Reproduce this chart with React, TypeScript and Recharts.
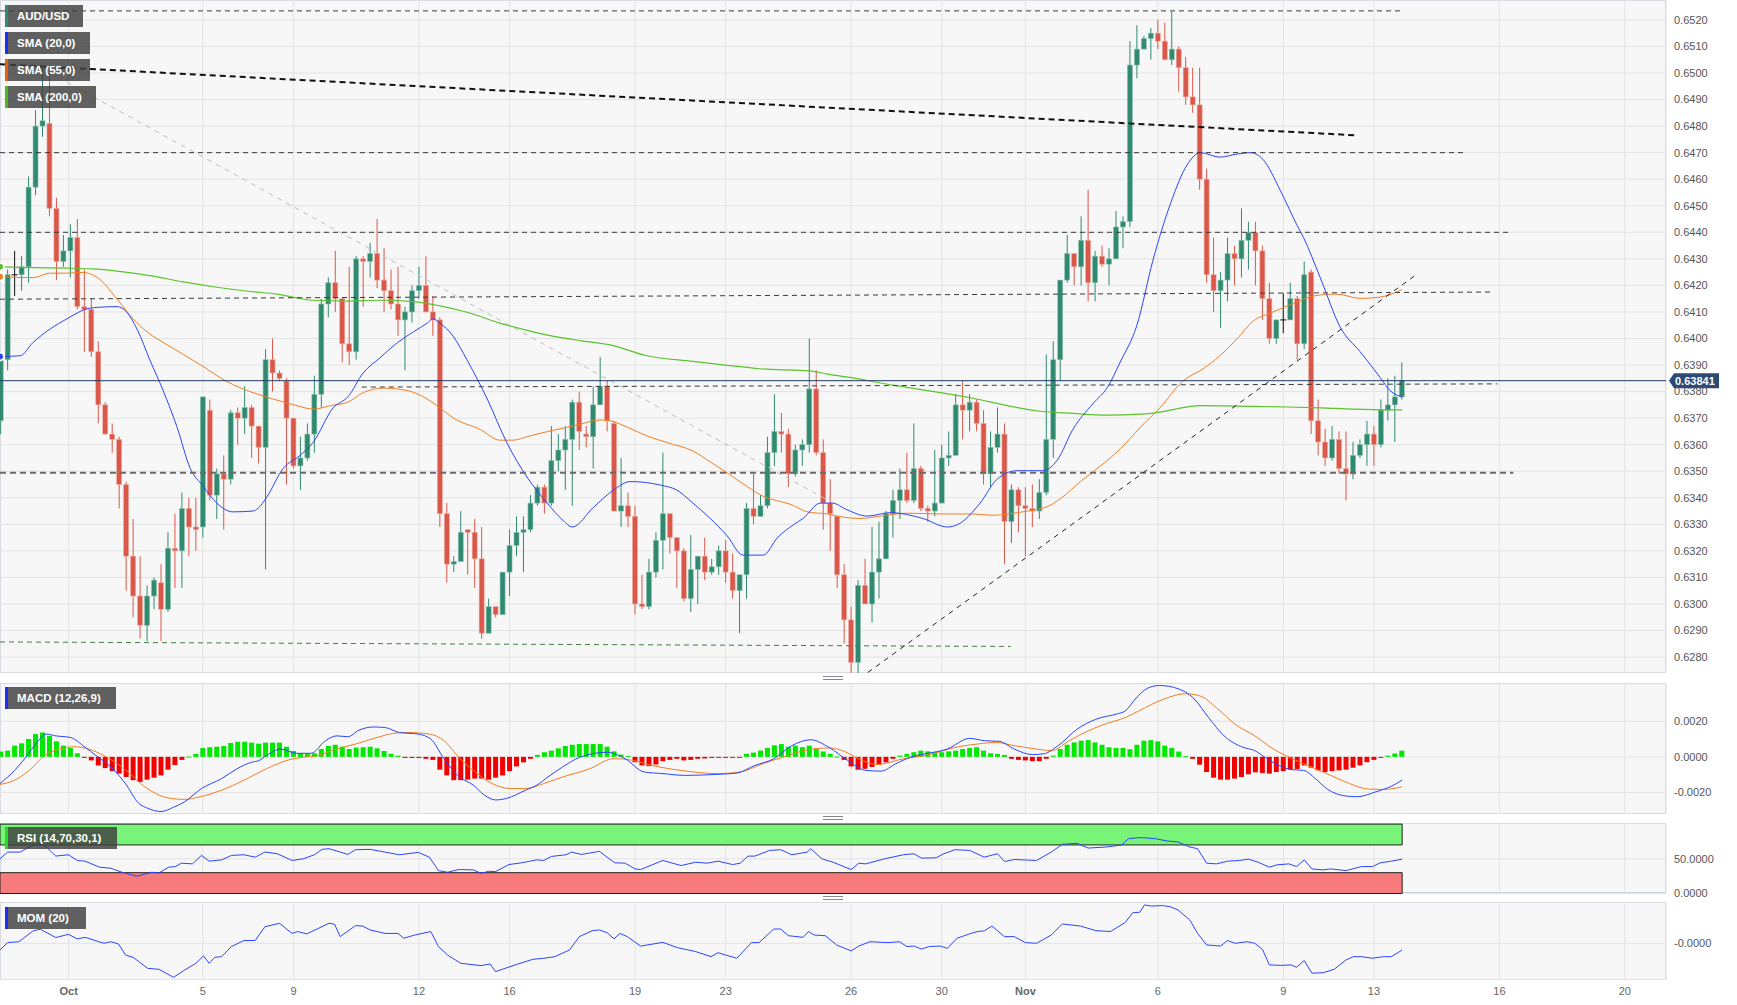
import React from "react";
import {
  ComposedChart,
  Bar,
  Line,
  XAxis,
  YAxis,
  ReferenceLine,
  ReferenceArea,
  CartesianGrid,
} from "recharts";

const FONT = "'Liberation Sans', Arial, sans-serif";
const CHART_W = 1737;
const AXIS_W = 71;
const X_DOMAIN: [number, number] = [-0.1, 238.9];

const UP = "#2f8a70";
const DOWN = "#d9584a";
const BLUE = "#2a45ff";
const ORANGE = "#f57d22";
const SMA_GREEN = "#5cc22e";

// candle index where each date label sits
const dateTicks = [9.75, 29, 42, 60, 73, 91, 104, 122, 135, 147, 166, 184, 197, 215, 233];
const dateLabels = ["Oct", "5", "9", "12", "16", "19", "23", "26", "30", "Nov", "6", "9", "13", "16", "20"];

const priceTicks = [
  0.628, 0.629, 0.63, 0.631, 0.632, 0.633, 0.634, 0.635, 0.636, 0.637, 0.638, 0.639, 0.64,
  0.641, 0.642, 0.643, 0.644, 0.645, 0.646, 0.647, 0.648, 0.649, 0.65, 0.651, 0.652,
];
const lastPrice = 0.63841;

// AUD/USD 4h candles: [open, high, low, close]
const candles = [
  [0.6369, 0.6395, 0.6364, 0.6392], [0.6392, 0.6426, 0.6388, 0.6424], [0.6424, 0.6433, 0.6416, 0.6424],
  [0.6424, 0.6431, 0.6418, 0.6427], [0.6427, 0.6461, 0.6421, 0.6457], [0.6457, 0.6486, 0.6454, 0.648],
  [0.648, 0.6502, 0.6476, 0.6482], [0.6481, 0.65, 0.6446, 0.6449], [0.6449, 0.6453, 0.6422, 0.6429],
  [0.6429, 0.6439, 0.6427, 0.6433], [0.6433, 0.6443, 0.6423, 0.6438], [0.6438, 0.6445, 0.6411, 0.6412],
  [0.6412, 0.6426, 0.6395, 0.6411], [0.6411, 0.6415, 0.6393, 0.6395], [0.6395, 0.6399, 0.6368, 0.6375],
  [0.6375, 0.6376, 0.6364, 0.6364], [0.6364, 0.6368, 0.6357, 0.6362], [0.6362, 0.6363, 0.6336, 0.6345],
  [0.6345, 0.6346, 0.6305, 0.6318], [0.6318, 0.6332, 0.6295, 0.6303], [0.6303, 0.6318, 0.6287, 0.6292],
  [0.6292, 0.6307, 0.6286, 0.6303], [0.6303, 0.631, 0.6298, 0.6309], [0.6308, 0.6315, 0.6286, 0.6298],
  [0.6298, 0.6327, 0.6297, 0.6321], [0.6321, 0.6334, 0.6306, 0.632], [0.632, 0.6342, 0.6306, 0.6336],
  [0.6336, 0.634, 0.6318, 0.6329], [0.6329, 0.634, 0.632, 0.6328], [0.6329, 0.6378, 0.6325, 0.6378],
  [0.6373, 0.6377, 0.6339, 0.6341], [0.6341, 0.6351, 0.6332, 0.6349], [0.6349, 0.6356, 0.6328, 0.6347],
  [0.6347, 0.6373, 0.6345, 0.6372], [0.6372, 0.6374, 0.636, 0.637], [0.637, 0.6382, 0.6364, 0.6374],
  [0.6374, 0.6375, 0.6355, 0.6367], [0.6367, 0.6367, 0.6353, 0.6359], [0.6359, 0.6396, 0.6313, 0.6392],
  [0.6392, 0.64, 0.638, 0.6387], [0.6387, 0.6388, 0.6384, 0.6385], [0.6384, 0.6385, 0.6345, 0.637],
  [0.637, 0.637, 0.6351, 0.6352], [0.6352, 0.6363, 0.6343, 0.6355], [0.6355, 0.6368, 0.6354, 0.6364],
  [0.6364, 0.6386, 0.6357, 0.6379], [0.6379, 0.6415, 0.6374, 0.6413], [0.6413, 0.6423, 0.6408, 0.6421],
  [0.6421, 0.6433, 0.641, 0.6415], [0.6415, 0.6415, 0.6391, 0.6398], [0.6398, 0.6427, 0.639, 0.6395],
  [0.6395, 0.6431, 0.6392, 0.643], [0.643, 0.6431, 0.6412, 0.6429], [0.6429, 0.6436, 0.6423, 0.6432],
  [0.6432, 0.6445, 0.6419, 0.6422], [0.6422, 0.6434, 0.641, 0.6418], [0.6418, 0.6426, 0.6411, 0.6413],
  [0.6413, 0.6427, 0.6401, 0.6407], [0.6407, 0.6412, 0.6388, 0.641], [0.641, 0.642, 0.6406, 0.6418],
  [0.6418, 0.6427, 0.6415, 0.642], [0.642, 0.6431, 0.641, 0.641], [0.641, 0.6416, 0.6401, 0.6407],
  [0.6407, 0.6408, 0.6329, 0.6334], [0.6334, 0.6338, 0.6308, 0.6315], [0.6315, 0.6318, 0.6312, 0.6316],
  [0.6316, 0.6335, 0.6316, 0.6327], [0.6328, 0.6328, 0.6311, 0.6327], [0.6327, 0.6332, 0.6306, 0.6317],
  [0.6317, 0.6329, 0.6287, 0.6289], [0.6289, 0.6302, 0.6289, 0.6299], [0.6299, 0.6299, 0.6295, 0.6296],
  [0.6296, 0.6312, 0.6296, 0.6312], [0.6312, 0.6328, 0.6303, 0.6322], [0.6322, 0.6333, 0.6318, 0.6327],
  [0.6327, 0.6333, 0.6312, 0.6328], [0.6328, 0.6341, 0.6327, 0.6338], [0.6338, 0.6345, 0.6337, 0.6344],
  [0.6344, 0.6345, 0.6334, 0.6338], [0.6338, 0.6367, 0.6337, 0.6354], [0.6354, 0.6364, 0.635, 0.6358],
  [0.6358, 0.6367, 0.6343, 0.6362], [0.6362, 0.6377, 0.6337, 0.6376], [0.6376, 0.638, 0.6358, 0.6365],
  [0.6364, 0.6367, 0.6359, 0.6363], [0.6363, 0.6382, 0.6351, 0.6375], [0.6375, 0.6393, 0.6375, 0.6382],
  [0.6382, 0.6384, 0.6365, 0.6369], [0.6368, 0.6369, 0.6335, 0.6335], [0.6335, 0.6355, 0.6329, 0.6337],
  [0.6337, 0.6342, 0.6329, 0.6333], [0.6333, 0.6337, 0.6296, 0.63], [0.63, 0.6311, 0.6298, 0.6299],
  [0.6299, 0.6317, 0.6298, 0.6312], [0.6312, 0.6327, 0.631, 0.6324], [0.6324, 0.6357, 0.6313, 0.6334],
  [0.6334, 0.6334, 0.6319, 0.6325], [0.6325, 0.6325, 0.6306, 0.632], [0.632, 0.6321, 0.6301, 0.6302],
  [0.6302, 0.6326, 0.6297, 0.6313], [0.6313, 0.6318, 0.63, 0.6318], [0.6318, 0.6325, 0.6309, 0.6312],
  [0.6312, 0.6317, 0.6311, 0.6314], [0.6314, 0.6322, 0.6311, 0.632], [0.632, 0.6324, 0.6308, 0.6312],
  [0.6312, 0.6319, 0.6302, 0.6305], [0.6305, 0.6311, 0.6289, 0.6311], [0.6311, 0.6338, 0.6302, 0.6336],
  [0.6336, 0.6349, 0.633, 0.6333], [0.6333, 0.6341, 0.6333, 0.6337], [0.6337, 0.6363, 0.6336, 0.6357],
  [0.6357, 0.6379, 0.6352, 0.6365], [0.6365, 0.6372, 0.6357, 0.6364], [0.6364, 0.6366, 0.6344, 0.6349],
  [0.6349, 0.636, 0.6348, 0.6358], [0.6358, 0.6362, 0.6352, 0.636], [0.636, 0.64, 0.6357, 0.6381],
  [0.6381, 0.6388, 0.6356, 0.6357], [0.6357, 0.6362, 0.6328, 0.6338], [0.6338, 0.6347, 0.632, 0.6334],
  [0.6333, 0.6333, 0.6306, 0.6311], [0.6311, 0.6315, 0.6285, 0.6294], [0.6294, 0.6299, 0.6274, 0.6278],
  [0.6278, 0.6309, 0.6274, 0.6307], [0.6307, 0.6317, 0.63, 0.63], [0.63, 0.6329, 0.6293, 0.6312],
  [0.6312, 0.6331, 0.6302, 0.6317], [0.6317, 0.6335, 0.6317, 0.6334], [0.6334, 0.6343, 0.6325, 0.6339],
  [0.6339, 0.6351, 0.6332, 0.6343], [0.6343, 0.6357, 0.6338, 0.6339], [0.6339, 0.6368, 0.6338, 0.6351],
  [0.6351, 0.6352, 0.6335, 0.6336], [0.6336, 0.6337, 0.6331, 0.6335], [0.6335, 0.6358, 0.6333, 0.6338],
  [0.6338, 0.636, 0.6338, 0.6355], [0.6355, 0.6365, 0.6352, 0.6356], [0.6356, 0.6379, 0.6356, 0.6375],
  [0.6375, 0.6384, 0.6362, 0.6373], [0.6373, 0.6379, 0.6365, 0.6376], [0.6376, 0.6377, 0.6365, 0.6368],
  [0.6368, 0.6373, 0.6345, 0.6349], [0.6349, 0.6365, 0.6344, 0.6359], [0.6359, 0.6374, 0.6357, 0.6364],
  [0.6364, 0.6368, 0.6315, 0.6331], [0.6331, 0.6345, 0.6323, 0.6343], [0.6343, 0.6344, 0.6327, 0.6337],
  [0.6337, 0.6344, 0.6318, 0.6336], [0.6336, 0.6345, 0.6329, 0.6335], [0.6335, 0.6347, 0.6332, 0.6342],
  [0.6342, 0.6394, 0.6341, 0.6362], [0.6362, 0.6399, 0.6355, 0.6392], [0.6392, 0.6422, 0.6384, 0.6422],
  [0.6422, 0.6439, 0.6421, 0.6432], [0.6432, 0.6432, 0.642, 0.6427], [0.6427, 0.6446, 0.642, 0.6437],
  [0.6437, 0.6456, 0.6414, 0.6421], [0.6421, 0.6433, 0.6414, 0.6431], [0.6431, 0.6435, 0.6427, 0.6428],
  [0.6428, 0.6434, 0.642, 0.643], [0.643, 0.6448, 0.643, 0.6442], [0.6442, 0.6446, 0.6434, 0.6444],
  [0.6444, 0.6512, 0.6442, 0.6503], [0.6503, 0.6518, 0.6498, 0.6509], [0.6509, 0.6514, 0.6509, 0.6513],
  [0.6513, 0.6517, 0.6505, 0.6515], [0.6515, 0.652, 0.6509, 0.6512], [0.6512, 0.6519, 0.6505, 0.6505],
  [0.6505, 0.6523, 0.6503, 0.6509], [0.6509, 0.651, 0.6493, 0.6502], [0.6502, 0.6506, 0.6488, 0.6491],
  [0.6491, 0.6502, 0.6485, 0.6488], [0.6488, 0.6502, 0.6456, 0.646], [0.646, 0.6464, 0.6421, 0.6424],
  [0.6424, 0.6438, 0.641, 0.6418], [0.6418, 0.6425, 0.6404, 0.6422], [0.6422, 0.6438, 0.6414, 0.6432],
  [0.6432, 0.6435, 0.642, 0.643], [0.643, 0.6449, 0.6423, 0.6437], [0.6437, 0.6444, 0.6426, 0.644],
  [0.644, 0.6444, 0.642, 0.6433], [0.6433, 0.6435, 0.6407, 0.6415], [0.6415, 0.6421, 0.6398, 0.64],
  [0.64, 0.6407, 0.6398, 0.6407], [0.6407, 0.6417, 0.6402, 0.6407], [0.6407, 0.6421, 0.6407, 0.6415],
  [0.6415, 0.6416, 0.6392, 0.6398], [0.6398, 0.6429, 0.6396, 0.6424], [0.6425, 0.6426, 0.6364, 0.6369],
  [0.6369, 0.6377, 0.6356, 0.6361], [0.6361, 0.6366, 0.6352, 0.6355], [0.6355, 0.6367, 0.6354, 0.6362],
  [0.6362, 0.6365, 0.6349, 0.6351], [0.6351, 0.6365, 0.6339, 0.6349], [0.6349, 0.6361, 0.6347, 0.6356],
  [0.6356, 0.6362, 0.6355, 0.636], [0.636, 0.6369, 0.6352, 0.6364], [0.6364, 0.6367, 0.6352, 0.636],
  [0.636, 0.6377, 0.6359, 0.6373], [0.6373, 0.6385, 0.6369, 0.6375], [0.6375, 0.6386, 0.6361, 0.6378],
  [0.6378, 0.6391, 0.6377, 0.63841],
];

// moving averages: [candle index, value]
const sma20 = [
  [-0.1, 0.63932], [2.8, 0.63935], [4.6, 0.63984], [7.1, 0.64036], [9.5, 0.64074], [12.4, 0.64112],
  [14.3, 0.64118], [16.7, 0.6412], [18.1, 0.64099], [19.6, 0.64033], [21.4, 0.63919], [23.3, 0.63804],
  [25.3, 0.63666], [27.2, 0.6351], [29.0, 0.63445], [31.0, 0.6338], [33.3, 0.63347], [36.2, 0.6335],
  [36.9, 0.6336], [38.2, 0.63404], [40.5, 0.6351], [42.9, 0.63559], [44.8, 0.63608], [47.7, 0.63739],
  [49.8, 0.6378], [52.0, 0.6387], [54.4, 0.63927], [56.9, 0.63984], [59.2, 0.64025], [61.2, 0.64058],
  [62.0, 0.64074], [63.0, 0.64058], [64.9, 0.64009], [66.9, 0.63919], [69.8, 0.63772], [72.6, 0.63608],
  [75.5, 0.63478], [78.4, 0.6338], [80.7, 0.63314], [82.0, 0.6329], [85.0, 0.63363], [87.9, 0.63429],
  [90.3, 0.63461], [94.6, 0.63448], [97.0, 0.63429], [99.3, 0.6338], [101.8, 0.63322], [104.2, 0.63257],
  [106.5, 0.63184], [109.4, 0.63184], [111.4, 0.63249], [113.7, 0.63298], [115.1, 0.63322], [117.6, 0.6338],
  [119.3, 0.6338], [121.4, 0.63355], [124.3, 0.63331], [127.6, 0.63344], [132.3, 0.63322], [135.8, 0.6329],
  [137.2, 0.63298], [140.5, 0.6338], [142.9, 0.63469], [145.8, 0.63502], [149.5, 0.63502], [151.6, 0.63543],
  [153.8, 0.63657], [156.7, 0.63755], [158.7, 0.63813], [160.6, 0.63911], [163.0, 0.6405], [165.3, 0.64295],
  [167.8, 0.64507], [170.2, 0.64654], [172.1, 0.647], [174.9, 0.64683], [177.4, 0.64695], [179.3, 0.647],
  [181.1, 0.64674], [183.6, 0.64556], [186.0, 0.64425], [186.9, 0.6438], [189.3, 0.64229], [192.2, 0.64041],
  [195.0, 0.63951], [197.9, 0.63853], [199.3, 0.63804], [201.05, 0.6378],
];
const sma55 = [
  [-0.1, 0.64233], [4.6, 0.64229], [7.1, 0.64246], [9.5, 0.64246], [11.8, 0.64249], [14.3, 0.64221],
  [16.7, 0.64148], [19.0, 0.64074], [21.0, 0.64025], [23.9, 0.63976], [28.6, 0.63902], [32.5, 0.63837],
  [36.2, 0.63796], [39.6, 0.63768], [42.5, 0.63747], [44.8, 0.63734], [47.3, 0.63747], [49.7, 0.63759],
  [52.0, 0.63796], [54.9, 0.63813], [58.3, 0.63804], [61.2, 0.63772], [63.0, 0.63739], [64.9, 0.63701],
  [68.8, 0.63657], [71.6, 0.63617], [73.5, 0.63617], [75.9, 0.63633], [78.4, 0.63649], [81.3, 0.63666],
  [83.1, 0.63677], [86.0, 0.63693], [87.4, 0.6369], [89.9, 0.63666], [92.7, 0.63633], [95.6, 0.63608],
  [99.3, 0.63576], [101.8, 0.63535], [104.2, 0.63494], [106.5, 0.63453], [108.9, 0.63412], [113.7, 0.63371],
  [115.7, 0.63347], [118.6, 0.63339], [120.9, 0.63327], [123.3, 0.63322], [126.2, 0.63331], [130.0, 0.63342],
  [134.8, 0.63339], [139.5, 0.63339], [142.4, 0.63334], [144.4, 0.63339], [147.3, 0.6335], [150.1, 0.63366],
  [152.0, 0.63396], [154.9, 0.63461], [157.7, 0.63518], [160.6, 0.63584], [163.5, 0.63666], [166.3, 0.63739],
  [169.6, 0.6384], [172.5, 0.63886], [174.9, 0.63935], [177.4, 0.64], [179.7, 0.64066], [182.1, 0.64095],
  [184.6, 0.64123], [186.9, 0.64148], [189.3, 0.64164], [191.7, 0.64167], [195.0, 0.64151], [197.9, 0.64156],
  [201.05, 0.64184],
];
const sma200 = [
  [-0.1, 0.6427], [4.6, 0.64267], [9.5, 0.64265], [13.2, 0.64262], [16.7, 0.64254], [21.4, 0.64237],
  [26.2, 0.64213], [31.0, 0.64193], [35.8, 0.64177], [39.6, 0.64167], [42.9, 0.64151], [44.8, 0.64144],
  [49.7, 0.64141], [54.4, 0.64144], [59.2, 0.64139], [63.0, 0.64123], [66.9, 0.64099], [71.6, 0.64058],
  [76.4, 0.64025], [80.2, 0.64004], [83.1, 0.63992], [87.4, 0.63976], [92.7, 0.63935], [99.3, 0.63914],
  [104.2, 0.63899], [108.9, 0.63886], [116.1, 0.63878], [118.6, 0.63866], [123.3, 0.63847], [125.2, 0.63837],
  [130.0, 0.63816], [134.8, 0.63796], [139.5, 0.63775], [144.4, 0.63747], [149.1, 0.63726], [153.8, 0.63718],
  [158.7, 0.63711], [163.5, 0.63715], [165.3, 0.63719], [172.1, 0.63747], [179.7, 0.63744], [184.6, 0.63742],
  [189.3, 0.63739], [194.0, 0.63734], [201.05, 0.63731],
];

// drawn levels: [x1, y1, x2, y2]
const dashedLevels = [
  [-0.1, 0.65234, 200.8, 0.65234],
  [-0.1, 0.647, 209.8, 0.647],
  [-0.1, 0.644, 216.4, 0.644],
  [-0.1, 0.64148, 214.0, 0.64175],
  [51.8, 0.63817, 214.7, 0.63829],
];
const supportLevel = [-0.1, 0.63494, 217.0, 0.63494];
const lowLevel = [-0.1, 0.62857, 144.9, 0.6284];
const downTrend = [-0.1, 0.65033, 194.7, 0.64765];
const fadedTrend = [9.5, 0.64965, 118.3, 0.63396];
const upTrend = [124.4, 0.62742, 202.9, 0.64237];

// MACD (12,26,9)
const macdHist = [
  0.0003, 0.00035, 0.00063, 0.00076, 0.001, 0.00128, 0.00137, 0.00118, 0.00087, 0.00063,
  0.0005, 0.0002, -0.00003, -0.0002, -0.00048, -0.00063, -0.0008, -0.00094, -0.00113, -0.00131,
  -0.00141, -0.00128, -0.00117, -0.00104, -0.00072, -0.00046, -0.00017, 0.00002, 0.00017, 0.0005,
  0.00054, 0.00057, 0.00061, 0.00078, 0.00085, 0.00085, 0.0008, 0.00074, 0.0008, 0.0008,
  0.0008, 0.00057, 0.00033, 0.0002, 0.00017, 0.0002, 0.00044, 0.00061, 0.00068, 0.00057,
  0.00044, 0.00052, 0.00054, 0.00057, 0.00048, 0.00033, 0.00017, 0.00007, -0.00006, -0.00006,
  -0.00006, -0.00011, -0.00017, -0.00072, -0.00104, -0.00131, -0.00131, -0.00128, -0.00122, -0.00122,
  -0.00128, -0.00117, -0.00104, -0.0008, -0.00054, -0.00031, -0.00011, 0.00011, 0.00026, 0.00035,
  0.00048, 0.00061, 0.00068, 0.00072, 0.00072, 0.00072, 0.00072, 0.00057, 0.00031, 0.00013,
  0.00004, -0.0003, -0.00048, -0.00052, -0.00043, -0.00024, -0.00017, -0.00011, -0.0002, -0.00017,
  -0.00011, -0.00009, -0.00006, -0.00002, -0.00002, -0.00002, -0.00002, 0.00017, 0.00024, 0.00035,
  0.0005, 0.00065, 0.00072, 0.00057, 0.00063, 0.00054, 0.00063, 0.00044, 0.0003, 0.00017,
  0.00002, -0.00017, -0.00054, -0.00072, -0.00067, -0.00057, -0.00044, -0.00031, -0.00011, 0.00007,
  0.00017, 0.00026, 0.00035, 0.00031, 0.00026, 0.00026, 0.00031, 0.00035, 0.00044, 0.0005,
  0.00054, 0.00035, 0.0002, 0.00017, 0.00011, -0.00011, -0.00017, -0.0002, -0.00024, -0.00024,
  -0.00011, 0.00007, 0.00044, 0.00068, 0.00081, 0.00091, 0.00094, 0.00081, 0.00068, 0.00054,
  0.0005, 0.0005, 0.00043, 0.00068, 0.00091, 0.00094, 0.00087, 0.00063, 0.0005, 0.0003,
  0.00004, -0.00011, -0.00044, -0.00085, -0.00117, -0.00128, -0.00128, -0.00122, -0.00113, -0.00098,
  -0.00087, -0.00091, -0.00094, -0.00085, -0.0008, -0.00072, -0.00068, -0.00048, -0.00061, -0.00076,
  -0.00085, -0.0008, -0.00076, -0.00072, -0.00061, -0.00048, -0.0003, -0.00017, -0.00002, 0.00007,
  0.00019, 0.00035,
];
const macdLine = [
  [-0.1, -0.0015], [2.0, -0.00076], [3.6, -0.00002], [5.2, 0.00081], [6.5, 0.00128], [7.9, 0.00118],
  [10.0, 0.00109], [12.1, 0.00054], [13.7, 0.00007], [15.8, -0.00057], [17.9, -0.0015], [19.8, -0.00261],
  [21.1, -0.00289], [23.0, -0.00307], [24.8, -0.00283], [26.4, -0.00252], [28.8, -0.00178], [31.7, -0.00122],
  [33.9, -0.00067], [36.0, -0.0003], [37.1, -0.0002], [38.1, 0.00007], [40.2, 0.00044], [42.4, 0.0002],
  [44.5, 0.0002], [46.6, 0.00091], [48.2, 0.00118], [49.8, 0.00113], [51.4, 0.0015], [53.5, 0.00168],
  [55.1, 0.00165], [57.2, 0.00137], [59.9, 0.00128], [61.7, 0.001], [63.6, -0.00011], [65.7, -0.00109],
  [67.8, -0.00159], [69.4, -0.00215], [71.0, -0.00242], [72.6, -0.00233], [75.3, -0.00187], [76.9, -0.00159],
  [78.5, -0.00113], [80.6, -0.00057], [83.1, -0.00002], [87.0, 0.00026], [89.6, -0.00011], [92.3, -0.00085],
  [95.0, -0.00094], [98.1, -0.00104], [102.9, -0.00098], [105.6, -0.00091], [108.2, -0.00048], [110.9, -0.00011],
  [113.5, 0.00063], [116.2, 0.00096], [118.8, 0.00054], [121.5, -0.0002], [124.1, -0.00076], [126.3, -0.0008],
  [128.4, -0.00039], [130.5, -0.00002], [132.6, 0.00017], [135.8, 0.00044], [139.0, 0.00104], [141.1, 0.00091],
  [143.3, 0.00087], [145.4, 0.00044], [148.0, 0.00013], [149.6, 0.00017], [151.7, 0.00063], [154.4, 0.00155],
  [157.1, 0.00211], [160.2, 0.00242], [161.3, 0.00257], [162.9, 0.00331], [164.5, 0.00385], [166.2, 0.00401],
  [168.9, 0.00383], [171.1, 0.00331], [173.3, 0.0022], [175.5, 0.00118], [178.2, 0.00054], [179.9, 0.00035],
  [181.5, -0.00006], [183.1, -0.00044], [185.3, -0.00072], [186.9, -0.00076], [188.6, -0.00122], [190.2, -0.00178],
  [193.0, -0.0022], [194.6, -0.00224], [197.3, -0.00196], [199.5, -0.00165], [201.05, -0.00131],
];
const macdSignal = [
  [-0.1, -0.00155], [2.0, -0.00131], [4.1, -0.00076], [6.3, 0.00007], [8.4, 0.00044], [10.5, 0.00057],
  [12.6, 0.00044], [14.8, 0.00007], [16.4, -0.0003], [18.5, -0.00094], [20.1, -0.0015], [22.2, -0.00205],
  [24.3, -0.00233], [26.4, -0.00239], [28.6, -0.00224], [31.7, -0.00187], [34.9, -0.00131], [38.1, -0.00067],
  [41.3, -0.00017], [43.4, -0.00002], [45.5, 0.00007], [47.7, 0.00039], [50.9, 0.00072], [54.0, 0.00109],
  [56.2, 0.00131], [58.3, 0.00137], [61.5, 0.00128], [63.6, 0.00091], [65.7, -0.00002], [67.8, -0.00076],
  [70.5, -0.0015], [73.1, -0.00178], [75.3, -0.00178], [77.9, -0.0015], [80.6, -0.00113], [84.3, -0.0007],
  [88.0, -0.0001], [90.7, -0.0002], [93.4, -0.00048], [97.6, -0.00076], [102.9, -0.00094], [106.1, -0.00085],
  [109.3, -0.00039], [112.5, 0.00002], [115.7, 0.00039], [118.8, 0.0005], [121.0, 0.00031], [123.1, -0.00011],
  [125.7, -0.00043], [129.5, -0.00011], [132.6, 0.00007], [137.4, 0.00057], [140.1, 0.00072], [142.7, 0.00081],
  [145.4, 0.00063], [148.6, 0.00044], [150.7, 0.00035], [153.3, 0.00091], [156.0, 0.00146], [158.6, 0.00187],
  [161.3, 0.0022], [163.4, 0.00261], [166.7, 0.00322], [170.0, 0.00355], [172.2, 0.0034], [174.4, 0.00276],
  [177.1, 0.00183], [179.9, 0.00118], [182.6, 0.00044], [185.3, -0.00011], [188.0, -0.00057], [190.8, -0.00104],
  [193.5, -0.0015], [196.2, -0.00181], [198.4, -0.00183], [201.05, -0.00168],
];

// RSI (14,70,30,1)
const rsi = [
  [-0.1, 50.0], [1.0, 59.7], [2.8, 59.7], [4.1, 67.0], [5.7, 72.8], [6.8, 64.6], [7.9, 53.9], [9.7, 55.8],
  [11.0, 47.6], [12.1, 46.6], [14.2, 37.9], [15.8, 36.4], [17.4, 30.6], [19.5, 24.8], [21.7, 30.6], [22.7, 29.6],
  [24.1, 37.9], [25.1, 38.8], [25.9, 43.7], [27.5, 42.7], [28.8, 54.9], [29.9, 46.6], [31.7, 48.5], [33.1, 54.9],
  [34.9, 55.8], [36.5, 52.4], [37.9, 59.7], [39.7, 57.3], [41.8, 47.6], [43.4, 50.0], [45.0, 55.8], [46.1, 63.6],
  [47.1, 64.6], [48.7, 59.7], [49.8, 56.3], [50.9, 63.1], [53.0, 63.6], [55.1, 59.7], [57.2, 55.8], [59.9, 59.2],
  [61.5, 52.4], [62.8, 33.0], [64.1, 30.6], [65.7, 34.5], [67.8, 34.0], [68.9, 29.1], [70.0, 32.0], [71.0, 31.6],
  [72.9, 41.7], [74.7, 44.2], [76.9, 48.5], [77.9, 47.6], [79.0, 53.4], [81.1, 55.8], [81.9, 59.7], [83.3, 56.3],
  [85.9, 60.7], [88.1, 44.2], [89.6, 43.7], [91.0, 35.4], [91.8, 34.5], [95.0, 47.6], [97.6, 40.3], [99.7, 45.1],
  [101.3, 43.7], [102.9, 46.6], [105.0, 41.7], [106.1, 43.7], [107.2, 53.9], [108.2, 53.9], [110.3, 62.1],
  [111.9, 63.1], [113.5, 55.8], [115.7, 59.7], [116.2, 64.6], [117.8, 50.0], [119.4, 45.1], [122.0, 34.5],
  [123.1, 43.7], [124.1, 42.7], [126.8, 50.0], [129.5, 55.8], [131.0, 57.3], [132.1, 51.0], [134.2, 51.5],
  [135.3, 57.3], [136.9, 63.1], [139.0, 62.1], [141.1, 52.4], [143.0, 57.3], [144.0, 46.1], [145.4, 49.0],
  [148.6, 47.6], [150.7, 59.7], [152.3, 70.9], [154.4, 72.3], [156.0, 65.5], [158.6, 67.0], [160.8, 69.9],
  [161.8, 79.1], [163.5, 80.6], [165.6, 79.1], [167.3, 75.7], [168.9, 74.3], [170.6, 67.0], [171.7, 64.6],
  [173.0, 43.7], [174.4, 42.7], [176.0, 46.6], [177.7, 47.6], [179.0, 49.5], [180.4, 45.1], [182.0, 37.9],
  [183.1, 41.3], [184.8, 42.7], [185.9, 38.8], [187.0, 48.5], [188.1, 35.4], [189.7, 34.0], [190.8, 35.4],
  [193.0, 33.0], [195.2, 38.8], [196.8, 38.8], [197.9, 44.2], [199.5, 46.6], [201.05, 49.5],
];
const rsiBands = { overbought: 70, oversold: 30, top: 100, bottom: 0, end: 201.05 };

// MOM (20)
const mom = [
  [-0.1, -0.0029], [1.0, 0.0003], [2.6, 0.0007], [4.7, 0.0055], [5.7, 0.0061], [7.9, 0.0025], [9.7, 0.0039],
  [11.0, 0.0019], [12.1, 0.0026], [14.8, 0.0], [15.8, 0.0007], [16.9, -0.0003], [17.9, -0.0051], [19.0, -0.0061],
  [21.1, -0.0109], [22.7, -0.0113], [24.8, -0.0148], [26.4, -0.0116], [28.0, -0.0087], [29.1, -0.0055],
  [29.9, -0.0087], [30.7, -0.0061], [31.7, -0.0058], [33.1, -0.0014], [34.9, 0.0012], [36.5, 0.0012],
  [37.9, 0.0072], [40.0, 0.0087], [41.8, 0.0043], [42.6, 0.0051], [43.9, 0.0041], [47.1, 0.0087], [47.9, 0.0083],
  [48.7, 0.0029], [50.9, 0.0077], [51.9, 0.0075], [53.0, 0.0058], [55.1, 0.0043], [57.0, 0.0043], [57.8, 0.0022],
  [59.4, 0.0036], [61.7, 0.0051], [62.8, -0.0014], [64.1, -0.0051], [66.0, -0.0087], [68.9, -0.0097],
  [70.2, -0.009], [71.0, -0.0123], [74.2, -0.009], [76.3, -0.007], [77.9, -0.0065], [79.5, -0.0058],
  [81.6, -0.0029], [83.0, 0.0029], [84.9, 0.0055], [85.9, 0.0058], [87.0, 0.0046], [88.0, 0.0019], [88.8, 0.0043],
  [89.9, 0.0029], [91.8, -0.0012], [95.0, 0.0004], [97.1, -0.0019], [99.7, -0.0036], [101.9, -0.0058],
  [102.9, -0.0041], [104.0, -0.0051], [105.6, -0.0065], [107.7, 0.0003], [108.8, 0.0003], [110.9, 0.0062],
  [111.9, 0.0062], [113.0, 0.0033], [115.1, 0.0026], [115.9, 0.0051], [116.7, 0.0036], [118.3, 0.0033],
  [119.9, -0.0007], [122.0, -0.0033], [123.1, -0.0012], [124.7, 0.0007], [127.3, 0.0003], [128.9, 0.0007],
  [130.0, -0.0014], [131.0, -0.0012], [132.1, -0.0025], [133.2, -0.0014], [134.8, -0.0012], [135.8, -0.0022],
  [137.2, 0.0022], [139.0, 0.0041], [140.1, 0.0051], [141.1, 0.0054], [142.2, 0.0075], [144.0, 0.0029],
  [145.4, 0.0029], [147.0, 0.0003], [148.6, 0.0], [150.7, 0.0036], [152.3, 0.0084], [154.9, 0.0075],
  [157.1, 0.0055], [159.2, 0.0051], [161.3, 0.009], [162.4, 0.0133], [163.4, 0.0135], [164.1, 0.0167],
  [165.1, 0.0162], [166.7, 0.0164], [167.8, 0.0159], [168.9, 0.0145], [170.6, 0.0101], [171.7, 0.0043],
  [173.0, -0.0007], [175.0, -0.0012], [176.0, 0.0012], [177.1, 0.0], [178.8, 0.0007], [179.9, 0.0],
  [181.0, -0.0026], [182.0, -0.0094], [183.7, -0.0096], [185.1, -0.0094], [185.9, -0.0104], [187.0, -0.0075],
  [188.1, -0.013], [189.7, -0.0128], [191.3, -0.0113], [193.0, -0.0072], [194.1, -0.0058], [195.2, -0.0058],
  [196.8, -0.0065], [198.4, -0.0058], [199.5, -0.0058], [201.05, -0.0029],
];

const candleData = candles.map(([o, h, l, c], i) => ({ x: i, o, h, l, c }));
const histData = macdHist.map((v, i) => ({ x: i, v }));
const pts = (arr: number[][]) => arr.map(([x, v]) => ({ x, v }));
const seg = (s: number[]) => [
  { x: s[0], y: s[1] },
  { x: s[2], y: s[3] },
];

const Candle = (props: any) => {
  const { x, y, width, height, payload } = props;
  if (!payload || x == null || y == null) return null;
  const { o, h, l, c } = payload;
  const top = Math.min(y, y + height);
  const span = Math.abs(height);
  const k = h > l ? span / (h - l) : 0;
  const cx = x + width / 2;
  const bTop = top + (h - Math.max(o, c)) * k;
  const bBot = top + (h - Math.min(o, c)) * k;
  if (c === o) {
    return (
      <g>
        <line x1={cx} x2={cx} y1={top} y2={top + span} stroke="#111" />
        <line x1={cx - 3} x2={cx + 3} y1={bTop} y2={bTop} stroke="#111" />
      </g>
    );
  }
  const col = c > o ? UP : DOWN;
  const edge = c > o ? "#8cc0ae" : "#eeaa9f";
  return (
    <g>
      <line x1={cx} x2={cx} y1={top} y2={top + span} stroke={col} strokeWidth={1} />
      <rect x={cx - 2.5} y={bTop} width={5} height={Math.max(1, bBot - bTop)} fill={col} stroke={edge} strokeWidth={0.6} />
    </g>
  );
};

const HistBar = (props: any) => {
  const { x, y, width, height, payload } = props;
  if (!payload || x == null || y == null) return null;
  const cx = x + width / 2;
  const top = Math.min(y, y + height);
  const h = Math.max(1, Math.abs(height));
  return <rect x={cx - 2.5} y={top} width={5} height={h} fill={payload.v >= 0 ? "#00e800" : "#f20000"} />;
};

const PriceTag = (props: any) => {
  const vb = props.viewBox || {};
  const y = vb.y;
  const x = (vb.x || 0) + (vb.width || 0) + 3;
  return (
    <g>
      <path d={`M${x} ${y} L${x + 5} ${y - 7.5} L${x + 50} ${y - 7.5} L${x + 50} ${y + 7.5} L${x + 5} ${y + 7.5} Z`} fill="#2c4a74" />
      <text x={x + 6} y={y} dy="0.36em" fill="#fff" fontSize={11} fontWeight={700} fontFamily={FONT}>
        {lastPrice.toFixed(5)}
      </text>
    </g>
  );
};

const DateTick = (props: any) => {
  const { x, y, payload } = props;
  const label = dateLabels[dateTicks.indexOf(payload.value)] ?? "";
  const month = label === "Oct" || label === "Nov";
  return (
    <text x={x} y={y} dy="0.71em" textAnchor="middle" fill="#666" fontSize={11} fontWeight={month ? 700 : 400} fontFamily={FONT}>
      {label}
    </text>
  );
};

const axisTick = { fill: "#555", fontSize: 11, fontFamily: FONT };

const Panel = ({ top, height }: { top: number; height: number }) => (
  <div
    style={{
      position: "absolute", left: 0, top, width: 1666, height,
      background: "#f7f7f7", border: "1px solid #cdd4e1", boxSizing: "border-box",
    }}
  />
);

const Tag = ({ top, width, color, text }: { top: number; width: number; color: string; text: string }) => (
  <div
    style={{
      position: "absolute", left: 5, top, width, height: 22, boxSizing: "border-box",
      background: "rgba(62,62,62,0.82)", borderLeft: `3px solid ${color}`, color: "#fff",
      fontSize: 11.5, fontWeight: 700, lineHeight: "22px", paddingLeft: 9, fontFamily: FONT, whiteSpace: "nowrap",
    }}
  >
    {text}
  </div>
);

const Handle = ({ top }: { top: number }) => (
  <div style={{ position: "absolute", left: 823, top, width: 20, height: 2, borderTop: "1px solid #888", borderBottom: "1px solid #888" }} />
);

const at = (top: number): React.CSSProperties => ({ position: "absolute", left: 0, top });

export default function App() {
  return (
    <div style={{ position: "absolute", left: 0, top: 0, width: CHART_W, height: 1005, background: "#fff", overflow: "hidden", fontFamily: FONT }}>
      <Panel top={0} height={673} />
      <Panel top={682.5} height={131} />
      <Panel top={822.5} height={70.5} />
      <Panel top={902} height={77.5} />

      {/* price */}
      <div style={at(0)}>
        <ComposedChart width={CHART_W} height={673} data={candleData} margin={{ top: 0, right: 0, bottom: 0, left: 0 }}>
          <CartesianGrid stroke="#e3e3e3" />
          <XAxis type="number" dataKey="x" domain={X_DOMAIN} ticks={dateTicks} allowDataOverflow hide />
          <YAxis
            orientation="right" width={AXIS_W} domain={[0.6274, 0.65275]} ticks={priceTicks} interval={0}
            allowDataOverflow axisLine={false} tickLine={false} tick={axisTick} tickFormatter={(v: number) => v.toFixed(4)}
          />
          <ReferenceLine segment={seg(fadedTrend)} stroke="#bdbdbd" strokeDasharray="5 5" ifOverflow="visible" />
          <Bar dataKey={(d: any) => [d.l, d.h]} shape={Candle} barSize={5} isAnimationActive={false} />
          <Line data={pts(sma200)} dataKey="v" type="monotone" stroke={SMA_GREEN} strokeWidth={1.2} dot={false} isAnimationActive={false} />
          <Line data={pts(sma55)} dataKey="v" type="monotone" stroke={ORANGE} strokeWidth={1} dot={false} isAnimationActive={false} />
          <Line data={pts(sma20)} dataKey="v" type="monotone" stroke={BLUE} strokeWidth={1} dot={false} isAnimationActive={false} />
          {dashedLevels.map((s, i) => (
            <ReferenceLine key={`lv${i}`} segment={seg(s)} stroke="#3a3a3a" strokeDasharray="5 4" ifOverflow="visible" />
          ))}
          <ReferenceLine segment={seg(supportLevel)} stroke="#6a6a6a" strokeWidth={2} strokeDasharray="6 4" ifOverflow="visible" />
          <ReferenceLine segment={seg(lowLevel)} stroke="#3f7f3f" strokeDasharray="5 4" ifOverflow="visible" />
          <ReferenceLine segment={seg(downTrend)} stroke="#111" strokeWidth={2} strokeDasharray="6 4" ifOverflow="visible" />
          <ReferenceLine segment={seg(upTrend)} stroke="#222" strokeDasharray="5 5" ifOverflow="visible" />
          <ReferenceLine y={lastPrice} stroke="#1f3a62" strokeWidth={1} label={<PriceTag />} />
        </ComposedChart>
      </div>

      {/* MACD */}
      <div style={at(682.5)}>
        <ComposedChart width={CHART_W} height={131} data={histData} margin={{ top: 0, right: 0, bottom: 0, left: 0 }}>
          <CartesianGrid stroke="#e3e3e3" />
          <XAxis type="number" dataKey="x" domain={X_DOMAIN} ticks={dateTicks} allowDataOverflow hide />
          <YAxis
            orientation="right" width={AXIS_W} domain={[-0.00321, 0.00415]} ticks={[-0.002, 0, 0.002]} interval={0}
            allowDataOverflow axisLine={false} tickLine={false} tick={axisTick} tickFormatter={(v: number) => v.toFixed(4)}
          />
          <Bar dataKey="v" shape={HistBar} barSize={5} isAnimationActive={false} />
          <Line data={pts(macdSignal)} dataKey="v" type="monotone" stroke={ORANGE} strokeWidth={1} dot={false} isAnimationActive={false} />
          <Line data={pts(macdLine)} dataKey="v" type="monotone" stroke={BLUE} strokeWidth={1} dot={false} isAnimationActive={false} />
        </ComposedChart>
      </div>

      {/* RSI */}
      <div style={at(822.5)}>
        <ComposedChart width={CHART_W} height={78.5} margin={{ top: 0, right: 0, bottom: 8, left: 0 }}>
          <CartesianGrid stroke="#e3e3e3" />
          <XAxis type="number" dataKey="x" domain={X_DOMAIN} ticks={dateTicks} allowDataOverflow hide />
          <YAxis
            orientation="right" width={AXIS_W} domain={[0, 101.6]} ticks={[0, 50]} interval={0}
            allowDataOverflow axisLine={false} tickLine={false} tick={axisTick} tickFormatter={(v: number) => v.toFixed(4)}
          />
          <ReferenceArea x1={X_DOMAIN[0]} x2={rsiBands.end} y1={rsiBands.overbought} y2={rsiBands.top} fill="#78f578" fillOpacity={1} stroke="#222" strokeWidth={1} ifOverflow="visible" />
          <ReferenceArea x1={X_DOMAIN[0]} x2={rsiBands.end} y1={rsiBands.bottom} y2={rsiBands.oversold} fill="#f87b7b" fillOpacity={1} stroke="#222" strokeWidth={1} ifOverflow="visible" />
          <Line data={pts(rsi)} dataKey="v" type="linear" stroke={BLUE} strokeWidth={1} dot={false} isAnimationActive={false} />
        </ComposedChart>
      </div>

      {/* MOM */}
      <div style={at(902)}>
        <ComposedChart width={CHART_W} height={103} margin={{ top: 0, right: 0, bottom: 0, left: 0 }}>
          <CartesianGrid stroke="#e3e3e3" />
          <XAxis
            type="number" dataKey="x" domain={X_DOMAIN} ticks={dateTicks} interval={0} allowDataOverflow
            height={25.5} axisLine={false} tickLine={false} tick={<DateTick />}
          />
          <YAxis
            orientation="right" width={AXIS_W} domain={[-0.01574, 0.01796]} ticks={[0]} interval={0}
            allowDataOverflow axisLine={false} tickLine={false} tick={axisTick} tickFormatter={() => "-0.0000"}
          />
          <Line data={pts(mom)} dataKey="v" type="linear" stroke={BLUE} strokeWidth={1} dot={false} isAnimationActive={false} />
        </ComposedChart>
      </div>

      <Handle top={676} />
      <Handle top={816} />
      <Handle top={896} />

      <Tag top={5} width={78} color="#2e8b74" text="AUD/USD" />
      <Tag top={32} width={85} color="#1a2cff" text="SMA (20,0)" />
      <Tag top={59} width={85} color="#e85f05" text="SMA (55,0)" />
      <Tag top={86} width={91} color="#4cb81c" text="SMA (200,0)" />
      <Tag top={687} width={111} color="#1a2cff" text="MACD (12,26,9)" />
      <Tag top={827} width={112} color="#22dd22" text="RSI (14,70,30,1)" />
      <Tag top={907} width={81} color="#1a2cff" text="MOM (20)" />
    </div>
  );
}
